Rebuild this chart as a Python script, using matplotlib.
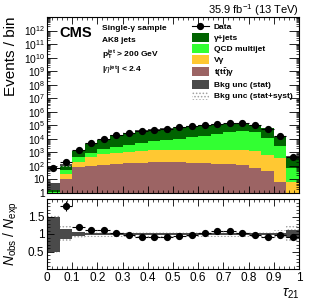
import numpy as np
import matplotlib
matplotlib.use("Agg")
import matplotlib.pyplot as plt
from matplotlib.lines import Line2D
from matplotlib.patches import Patch
from matplotlib.ticker import FixedLocator, MultipleLocator, LogLocator, NullFormatter

plt.rcParams['font.family'] = ['Liberation Sans', 'DejaVu Sans']
plt.rcParams['mathtext.fontset'] = 'custom'
plt.rcParams['mathtext.rm'] = 'Liberation Sans'
plt.rcParams['mathtext.it'] = 'Liberation Sans:italic'
plt.rcParams['mathtext.bf'] = 'Liberation Sans:bold'
plt.rcParams['hatch.linewidth'] = 0.7

# binning in tau21
bin_edges = np.arange(0, 1.0001, 0.05)
bin_centers = 0.5 * (bin_edges[1:] + bin_edges[:-1])

# observed events per bin
data = [66, 205, 1500, 5200, 9700, 19000, 28000, 38000, 45000, 53000,
        70000, 89000, 105000, 125000, 140000, 148000, 110000, 56000, 15500, 437]

# expected backgrounds per bin (stack order: bottom -> top)
ttg = [0.3, 10, 79, 105, 123, 138, 155, 173, 183, 183,
       180, 175, 165, 150, 135, 123, 70, 40, 7, 0.3]
vg = [0.3, 15, 126, 375, 597, 812, 965, 1087, 1237, 1317,
      1370, 1405, 1435, 1450, 1465, 1457, 1130, 640, 373, 6.7]
qcd = [0.5, 25, 230, 470, 1060, 1690, 2580, 3940, 5180, 6700,
       8450, 11420, 15400, 22400, 30400, 38420, 31800, 10320, 2420, 63]
gjets = [2.4, 64, 825, 3750, 6920, 15660, 24900, 36100, 42300, 49400,
         63700, 77800, 86000, 92000, 98000, 105000, 79000, 50000, 13300, 405]

# relative background uncertainties
unc_stat = [0.5, 0.15, 0.06, 0.03, 0.025, 0.02, 0.02, 0.02, 0.02, 0.02,
            0.02, 0.02, 0.02, 0.02, 0.02, 0.02, 0.02, 0.025, 0.03, 0.12]
unc_tot = [0.55, 0.22, 0.1, 0.08, 0.08, 0.08, 0.08, 0.08, 0.08, 0.08,
           0.08, 0.08, 0.08, 0.08, 0.08, 0.08, 0.08, 0.09, 0.12, 0.24]
# data uncertainty on the ratio
ratio_err = [0.0, 0.14, 0.03, 0.015, 0.012, 0.01, 0.01, 0.01, 0.01, 0.01,
             0.01, 0.01, 0.01, 0.01, 0.01, 0.01, 0.01, 0.01, 0.02, 0.05]

names = ['t(t$\\mathbf{\\bar{t}}$)γ', 'Vγ', 'QCD multijet', 'γ+jets']
colors = ['#9c6464', '#ffc832', '#32ff32', '#006400']
col_stat = '#4a4a4a'
col_syst = '#a0a0a0'

fig = plt.figure(figsize=(3.16, 3.03), dpi=100)
ax = fig.add_axes([47/316, 1-193/303, 252/316, 176/303])
ax2 = fig.add_axes([47/316, 1-269/303, 252/316, 70/303])

# stacked backgrounds
jos = np.full(20, 1e-3)
for vals, c in zip([ttg, vg, qcd, gjets], colors):
    sus = jos + np.array(vals)
    ax.stairs(sus, bin_edges, baseline=jos, fill=True, color=c, lw=0)
    jos = sus
total = jos

s = np.array(unc_stat)
t = np.array(unc_tot)
ax.stairs(total*(1+t), bin_edges, baseline=total*(1-t), fill=True,
          facecolor='none', edgecolor=col_syst, hatch='.....', lw=0)
ax.stairs(total*(1+s), bin_edges, baseline=total*(1-s), fill=True, color=col_stat, lw=0)

ax.errorbar(bin_centers, data, xerr=0.025, yerr=np.sqrt(data), fmt='o', color='k',
            ms=4.2, lw=0.8, capsize=0)

ax.set_yscale('log')
ax.set_xlim(0, 1)
ax.set_ylim(1, 1e13)
ax.yaxis.set_major_locator(FixedLocator(10.0**np.arange(0, 13)))
ax.set_yticklabels(['1', '10'] + ['$10^{%d}$' % k for k in range(2, 13)])
ax.yaxis.set_minor_locator(LogLocator(base=10, subs=np.arange(2, 10), numticks=30))
ax.yaxis.set_minor_formatter(NullFormatter())
ax.xaxis.set_major_locator(MultipleLocator(0.1))
ax.xaxis.set_minor_locator(MultipleLocator(0.02))
ax.tick_params(labelbottom=False)
ax.set_ylabel('Events / bin', fontsize=11, loc='top')
ax.yaxis.set_label_coords(-0.115, 1.0)

# ratio panel
ratio = np.array(data) / total
ax2.stairs(1+t, bin_edges, baseline=1-t, fill=True, facecolor='none',
           edgecolor=col_syst, hatch='.....', lw=0)
ax2.stairs(1+s, bin_edges, baseline=1-s, fill=True, color=col_stat, lw=0)
ax2.errorbar(bin_centers, ratio, xerr=0.025, yerr=ratio_err, fmt='o', color='k',
             ms=4.2, lw=0.8, capsize=0)
ax2.set_xlim(0, 1)
ax2.set_ylim(0, 2)
ax2.set_yticks([0.5, 1, 1.5])
ax2.set_yticklabels(['0.5', '1', '1.5'])
ax2.yaxis.set_minor_locator(MultipleLocator(0.1))
ax2.xaxis.set_minor_locator(MultipleLocator(0.02))
ax2.set_xticks(np.arange(0, 1.01, 0.1))
ax2.set_xticklabels(['0', '0.1', '0.2', '0.3', '0.4', '0.5', '0.6', '0.7', '0.8', '0.9', '1'])
ax2.set_ylabel(r'$N_{\rm obs}$ / $N_{\rm exp}$', fontsize=10)
ax2.yaxis.set_label_coords(-0.105, 0.5)
ax2.set_xlabel(r'$\tau_{21}$', fontsize=10, loc='right', labelpad=2)

for a in (ax, ax2):
    a.tick_params(which='both', direction='in', top=True, right=True, labelsize=8.5, pad=2)
    a.tick_params(which='major', length=5, width=0.6)
    a.tick_params(which='minor', length=2.5, width=0.5)
    for sp in a.spines.values():
        sp.set_linewidth(0.8)
ax.tick_params(axis='y', labelsize=7.4, pad=1.5)
ax.tick_params(axis='y', which='major', length=7)

# legend
h = [Line2D([], [], color='k', marker='o', ms=4.2, lw=0.8)]
for c in colors[::-1]:
    h.append(Patch(facecolor=c, edgecolor='none'))
h.append(Patch(facecolor=col_stat, edgecolor='none'))
h.append(Patch(facecolor='none', edgecolor=col_syst, hatch='.....', lw=0))
labels = ['Data'] + names[::-1] + ['Bkg unc (stat)', 'Bkg unc (stat+syst)']
ax.legend(h, labels, loc='upper left', bbox_to_anchor=(0.575, 0.97), frameon=False,
          prop={'size': 6, 'weight': 'bold'}, handlelength=2.0, handleheight=1.25,
          labelspacing=0.2, handletextpad=0.6, borderpad=0, borderaxespad=0)

# labels
fig.text(59/316, 1-33/303, 'CMS', fontsize=10.5, weight='bold', va='center')
fig.text(102/316, 1-28/303, 'Single-γ sample', fontsize=6, weight='bold', va='center')
fig.text(102/316, 1-41/303, 'AK8 jets', fontsize=6, weight='bold', va='center')
fig.text(102/316, 1-55/303, r'$\mathbf{p}_\mathbf{T}^\mathbf{jet}$ > 200 GeV', fontsize=6,
         weight='bold', va='center')
fig.text(102/316, 1-70/303, r'|$\eta^\mathbf{jet}$| < 2.4', fontsize=6, weight='bold', va='center')
fig.text(299/316, 1-10/303, r'35.9 fb$^{-1}$ (13 TeV)', fontsize=8, ha='right', va='center')

fig.savefig('out.png', dpi=100)
